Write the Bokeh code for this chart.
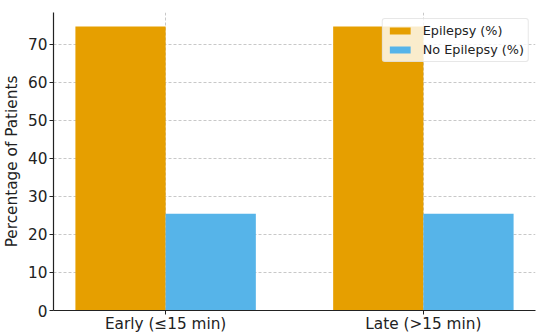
from bokeh.plotting import figure
from bokeh.models import ColumnDataSource, FixedTicker, Range1d, Legend, LegendItem
from bokeh.embed import file_html
from bokeh.resources import INLINE

categories = ["Early (≤15 min)", "Late (>15 min)"]
epilepsy = [74.6, 74.6]
no_epilepsy = [25.4, 25.4]
series_names = ["Epilepsy (%)", "No Epilepsy (%)"]
colors = ["#E69F00", "#56B4E9"]
yticks = [0, 10, 20, 30, 40, 50, 60, 70]

bar_w = 0.35
idx = list(range(len(categories)))

p = figure(frame_width=482, frame_height=298, output_backend="svg", toolbar_location=None,
           x_range=Range1d(-0.435, 1.435), y_range=Range1d(0, 78.3),
           min_border_left=45, min_border_right=7, min_border_top=12, min_border_bottom=18)
p.outline_line_color = None
p.background_fill_color = "white"

src = ColumnDataSource(dict(
    x1=[i - bar_w / 2 for i in idx],
    x2=[i + bar_w / 2 for i in idx],
    e=epilepsy, n=no_epilepsy))
r1 = p.vbar(x="x1", top="e", width=bar_w, source=src, fill_color=colors[0], line_color=None)
r2 = p.vbar(x="x2", top="n", width=bar_w, source=src, fill_color=colors[1], line_color=None)

p.xaxis.ticker = FixedTicker(ticks=idx)
p.xaxis.major_label_overrides = {i: c for i, c in zip(idx, categories)}
p.yaxis.ticker = FixedTicker(ticks=yticks)
p.xgrid.ticker = FixedTicker(ticks=idx)
p.ygrid.ticker = FixedTicker(ticks=yticks)
for g in (p.xgrid, p.ygrid):
    g.grid_line_color = "#b0b0b0"
    g.grid_line_dash = "3 2"
    g.grid_line_alpha = 0.7
    g.grid_line_width = 1

for ax in (p.xaxis, p.yaxis):
    ax.axis_line_color = "#222222"
    ax.axis_line_width = 1.2
    ax.major_tick_line_color = "#222222"
    ax.major_tick_in = 0
    ax.major_tick_out = 4
    ax.minor_tick_line_color = None
    ax.major_label_text_font = "DejaVu Sans"
    ax.major_label_text_font_size = "15.3px"
    ax.major_label_text_color = "#222222"
    ax.major_label_standoff = 2
p.xaxis.major_label_standoff = 0
p.yaxis.axis_label = "Percentage of Patients"
p.yaxis.axis_label_text_font = "DejaVu Sans"
p.yaxis.axis_label_text_font_size = "15.3px"
p.yaxis.axis_label_text_font_style = "normal"
p.yaxis.axis_label_text_color = "#222222"
p.yaxis.axis_label_standoff = 4

legend = Legend(items=[LegendItem(label=series_names[0], renderers=[r1]),
                       LegendItem(label=series_names[1], renderers=[r2])],
                location="top_right")
legend.label_text_font = "DejaVu Sans"
legend.label_text_font_size = "12.8px"
legend.label_text_color = "#222222"
legend.glyph_width = 26
legend.glyph_height = 9
legend.label_height = 15
legend.label_standoff = 10
legend.spacing = 4
legend.padding = 4
legend.margin = 6
legend.border_line_color = "#d0d0d0"
legend.border_radius = 3
legend.background_fill_alpha = 0.8
p.add_layout(legend)

open("out.html", "w").write(file_html(p, INLINE))
